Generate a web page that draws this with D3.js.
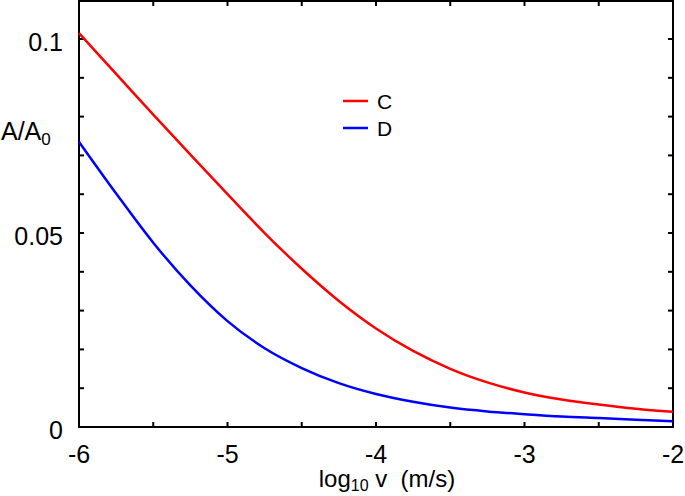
<!DOCTYPE html>
<html>
<head>
<meta charset="utf-8">
<script src="https://cdn.jsdelivr.net/npm/d3@7"></script>
<style>
  html, body { margin: 0; padding: 0; background: #fff; }
  svg { display: block; font-family: "Liberation Sans", Arial, Helvetica, sans-serif; }
</style>
</head>
<body>
<svg id="chart" width="685" height="496"></svg>
<script>
// ---- data ----
const logV = [-6, -5.75, -5.5, -5.25, -5, -4.75, -4.5, -4.25, -4, -3.75, -3.5, -3.25, -3, -2.75, -2.5, -2.25, -2];
const seriesC = [0.1015, 0.0910, 0.0805, 0.0702, 0.0600, 0.0500, 0.0408, 0.0325, 0.0254, 0.0196, 0.0150, 0.0115, 0.0089, 0.0071, 0.0058, 0.0047, 0.0039];
const seriesD = [0.0735, 0.0602, 0.0475, 0.0365, 0.0273, 0.0203, 0.0152, 0.0113, 0.0085, 0.0065, 0.0050, 0.0040, 0.0033, 0.0027, 0.0023, 0.0019, 0.0015];
const seriesNames = ["C", "D"];
const seriesColors = ["#ff0000", "#0000ff"];
const xTickLabels = ["-6", "-5", "-4", "-3", "-2"];
const yTickLabels = ["0", "0.05", "0.1"];

// ---- layout ----
const svg = d3.select("#chart");
const L = 79, R = 673, T = 1, B = 427;
const x = d3.scaleLinear().domain([-6, -2]).range([L, R]);
const y = d3.scaleLinear().domain([0, 0.1098]).range([B, T]);

// frame
svg.append("rect").attr("x", L).attr("y", T).attr("width", R - L).attr("height", B - T)
  .attr("fill", "none").attr("stroke", "#000").attr("stroke-width", 2);

// ticks (inward, all four sides)
const xMinor = d3.range(-6, -2.001, 0.5);
const yMinor = d3.range(0, 0.1095, 0.01);
const tickLen = 5;
const tg = svg.append("g").attr("stroke", "#000").attr("stroke-width", 2);
xMinor.forEach(v => {
  tg.append("line").attr("x1", x(v)).attr("x2", x(v)).attr("y1", B).attr("y2", B - tickLen);
  tg.append("line").attr("x1", x(v)).attr("x2", x(v)).attr("y1", T).attr("y2", T + tickLen);
});
yMinor.forEach(v => {
  tg.append("line").attr("y1", y(v)).attr("y2", y(v)).attr("x1", L).attr("x2", L + tickLen);
  tg.append("line").attr("y1", y(v)).attr("y2", y(v)).attr("x1", R).attr("x2", R - tickLen);
});

// tick labels
xTickLabels.forEach(t => {
  svg.append("text").attr("x", x(+t)).attr("y", 463).attr("text-anchor", "middle")
    .attr("font-size", 25).text(t);
});
yTickLabels.forEach(t => {
  svg.append("text").attr("x", 63).attr("y", y(+t) + 12).attr("text-anchor", "end")
    .attr("font-size", 25).text(t);
});

// axis titles
const xt = svg.append("text").attr("x", 387).attr("y", 487).attr("text-anchor", "middle").attr("font-size", 24);
xt.append("tspan").text("log");
xt.append("tspan").attr("font-size", 16).attr("dy", 4).text("10");
xt.append("tspan").attr("dy", -4).text(" v\u00a0\u00a0(m/s)");

const yt = svg.append("text").attr("x", 1).attr("y", 140).attr("font-size", 25);
yt.append("tspan").text("A/A");
yt.append("tspan").attr("font-size", 17).attr("dy", 5).text("0");

// curves
const line = d3.line().x(d => x(d[0])).y(d => y(d[1])).curve(d3.curveMonotoneX);
[seriesC, seriesD].forEach((s, i) => {
  svg.append("path").datum(logV.map((v, j) => [v, s[j]]))
    .attr("fill", "none").attr("stroke", seriesColors[i]).attr("stroke-width", 2.5)
    .attr("stroke-linejoin", "round")
    .attr("d", line);
});

// legend
seriesNames.forEach((n, i) => {
  const ly = 101 + i * 27;
  svg.append("line").attr("x1", 343).attr("x2", 368).attr("y1", ly).attr("y2", ly)
    .attr("stroke", seriesColors[i]).attr("stroke-width", 2.5);
  svg.append("text").attr("x", 377).attr("y", ly + 8).attr("font-size", 21).text(n);
});
</script>
</body>
</html>
